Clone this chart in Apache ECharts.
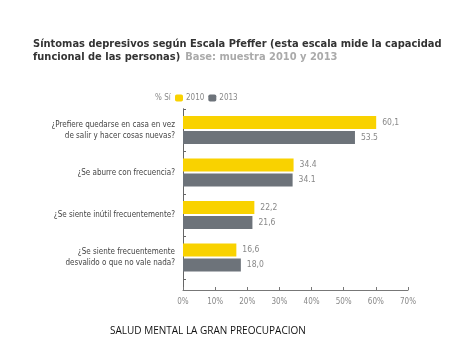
<!DOCTYPE html>
<html><head><meta charset="utf-8">
<script src="https://cdn.jsdelivr.net/npm/echarts@6/dist/echarts.min.js"></script>
<style>html,body{margin:0;padding:0;background:#fff}#c{width:474px;height:355px}</style>
</head><body><div id="c"></div>
<script>
var categories = ['¿Prefiere quedarse en casa en vez\nde salir y hacer cosas nuevas?', '¿Se aburre con frecuencia?', '¿Se siente inútil frecuentemente?', '¿Se siente frecuentemente\ndesvalido o que no vale nada?'];
var values2010 = [60.1, 34.4, 22.2, 16.6];
var values2013 = [53.5, 34.1, 21.6, 18.0];
var labels2010 = ['60,1', '34.4', '22,2', '16,6'];
var labels2013 = ['53.5', '34.1', '21,6', '18,0'];
var xTicks = [0, 10, 20, 30, 40, 50, 60, 70];

var chart = echarts.init(document.getElementById('c'));
var F = '"DejaVu Sans Condensed", "Liberation Sans", sans-serif';
chart.setOption({
  animation: false,
  backgroundColor: '#fff',
  title: [{
    left: 33, top: 38, padding: 0,
    text: '{a|Síntomas depresivos según Escala Pfeffer (esta escala mide la capacidad}\n{a|funcional de las personas)} {b|Base: muestra 2010 y 2013}',
    textStyle: {
      lineHeight: 13,
      rich: {
        a: {fontFamily: F, fontWeight: 'bold', fontSize: 11, color: '#333', lineHeight: 13},
        b: {fontFamily: F, fontWeight: 'bold', fontSize: 11, color: '#aaa', lineHeight: 13}
      }
    }
  }, {
    left: 150, top: 89, text: '% Sí',
    textStyle: {fontFamily: F, fontSize: 8, color: '#888', fontWeight: 'normal'}
  }, {
    left: 105, top: 321, text: 'SALUD MENTAL LA GRAN PREOCUPACION',
    textStyle: {fontFamily: '"Open Sans", sans-serif', fontSize: 10, color: '#111', fontWeight: 'normal'}
  }],
  legend: {
    left: 170, top: 89, itemWidth: 8, itemHeight: 7, itemGap: 4,
    textStyle: {fontFamily: F, fontSize: 8, color: '#888', padding: [0, 0, 0, -2]},
    data: ['2010', '2013']
  },
  grid: [
    {left: 183, right: 66, top: 108.75, height: 170},
    {left: 183, right: 66, top: 108.75, height: 181.25}
  ],
  xAxis: [{
    gridIndex: 0, type: 'value', min: 0, max: 70, show: false
  }, {
    gridIndex: 1, type: 'value', min: 0, max: 70, interval: 10,
    axisLine: {show: true, lineStyle: {color: '#777', width: 1}},
    axisTick: {show: true, inside: true, length: 3, lineStyle: {color: '#777'}},
    splitLine: {show: false},
    axisLabel: {formatter: function (v) { return xTicks.indexOf(v) >= 0 ? v + '%' : ''; }, color: '#888', fontSize: 8, fontFamily: F, margin: 8}
  }],
  yAxis: [{
    gridIndex: 0, type: 'category', inverse: true, data: categories,
    axisLine: {show: false},
    axisTick: {show: true, inside: true, length: 3, lineStyle: {color: '#666'}},
    axisLabel: {color: '#444', fontSize: 8, fontFamily: F, lineHeight: 11, margin: 8, align: 'right'}
  }, {
    gridIndex: 1, type: 'value', min: 0, max: 1,
    axisLine: {show: true, lineStyle: {color: '#666', width: 1}},
    axisTick: {show: false}, axisLabel: {show: false}, splitLine: {show: false}
  }],
  series: [{
    name: '2010', type: 'bar', xAxisIndex: 0, yAxisIndex: 0, data: values2010, barWidth: 13, barGap: '15%',
    itemStyle: {color: '#F9D200'},
    label: {show: true, position: 'right', distance: 6, color: '#888', fontSize: 8.5, fontFamily: F,
      formatter: function (p) { return labels2010[p.dataIndex]; }}
  }, {
    name: '2013', type: 'bar', xAxisIndex: 0, yAxisIndex: 0, data: values2013, barWidth: 13,
    itemStyle: {color: '#6D737A'},
    label: {show: true, position: 'right', distance: 6, color: '#888', fontSize: 8.5, fontFamily: F,
      formatter: function (p) { return labels2013[p.dataIndex]; }}
  }]
});
</script></body></html>
